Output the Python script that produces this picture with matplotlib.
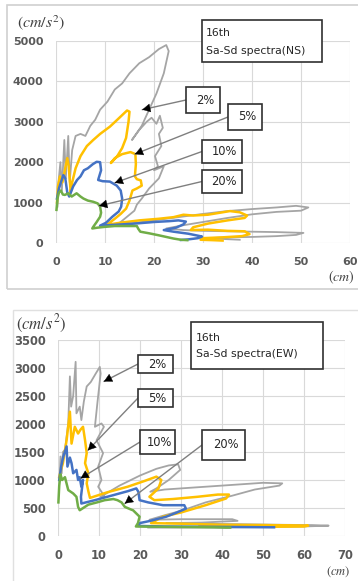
import matplotlib
matplotlib.use("Agg")
import matplotlib.pyplot as plt
from matplotlib.patches import Rectangle, FancyArrowPatch
import numpy as np

# ---------------- data: NS (top) ----------------
sd_ns_2 = [0.3, 0.5, 0.9, 1.2, 1.7, 2.0, 2.5, 2.8, 3.3, 4.0, 5.0, 6.0, 7.0, 8.0, 9.0, 10.5, 12.0, 13.5,
           15.0, 17.0, 19.0, 21.0, 22.5, 23.0, 22.0, 20.5, 19.0, 17.5, 15.5, 17.0, 18.5, 19.5, 20.5, 21.2,
           21.8, 21.0, 21.5, 20.2, 20.8, 20.0, 22.0, 21.0, 19.0, 17.5, 16.5, 16.0, 14.5, 13.0, 11.5, 15.0,
           20.0, 25.0, 30.0, 35.0, 40.0, 45.0, 49.0, 51.5, 50.0, 45.0, 40.0, 35.0, 30.0, 26.0, 22.5, 26.0,
           30.0, 35.0, 40.0, 45.0, 50.5, 49.0, 45.0, 40.0, 35.0, 31.0, 34.0, 37.5]
sa_ns_2 = [900, 1500, 2000, 1300, 2550, 1600, 2650, 1500, 2300, 2650, 2700, 2650, 2900, 3050, 3300, 3500,
           3800, 3950, 4200, 4450, 4600, 4800, 4900, 4750, 4200, 3700, 3300, 2900, 2550, 2800, 3000, 3100,
           2950, 3150, 2850, 2700, 2400, 2150, 1900, 1800, 1900, 1600, 1350, 1100, 950, 800, 650, 500, 420,
           480, 560, 640, 720, 790, 840, 880, 920, 880, 800, 770, 710, 620, 520, 440, 360, 320, 300, 290,
           280, 270, 250, 200, 170, 150, 140, 120, 100, 80]

sd_ns_5 = [0.2, 0.4, 0.8, 1.3, 1.8, 2.3, 2.6, 3.0, 3.3, 4.0, 5.0, 6.3, 7.6, 9.0, 11.0, 12.5, 13.8, 14.5,
           15.0, 14.8, 14.3, 13.5, 12.5, 11.2, 12.0, 13.5, 15.2, 16.2, 16.3, 16.1, 16.5, 17.3, 17.5, 16.5,
           15.6, 15.0, 14.3, 13.2, 12.0, 10.4, 13.0, 17.0, 21.0, 24.0, 26.0, 28.0, 31.0, 34.0, 35.5, 37.5,
           39.0, 38.5, 35.0, 31.0, 28.0, 27.5, 31.0, 35.0, 38.5, 39.5, 38.0, 34.0, 30.0, 29.5, 32.0, 34.0]
sa_ns_5 = [1000, 1400, 1650, 1500, 1800, 2100, 1900, 1250, 1500, 1850, 2150, 2400, 2550, 2700, 2880, 3050,
           3200, 3280, 3250, 3000, 2600, 2350, 2150, 1980, 2100, 2200, 2250, 2200, 1950, 1650, 1580, 1550,
           1420, 1350, 1300, 1050, 850, 720, 600, 450, 500, 560, 600, 640, 700, 680, 700, 760, 790, 760,
           680, 620, 560, 480, 390, 320, 330, 300, 290, 220, 170, 140, 120, 80, 70, 60]

sd_ns_10 = [0.2, 0.6, 1.0, 1.5, 1.9, 2.3, 2.7, 3.5, 4.3, 5.0, 5.7, 6.5, 7.5, 8.3, 9.0, 9.2, 8.6, 9.5,
            11.0, 12.4, 13.2, 13.5, 13.3, 12.8, 11.5, 10.2, 9.0, 12.0, 16.0, 20.0, 23.0, 25.0, 26.5, 26.0,
            24.5, 22.0, 24.0, 27.0, 29.8, 29.0, 27.0, 25.5]
sa_ns_10 = [1100, 1350, 1500, 1680, 1600, 1250, 1150, 1400, 1560, 1650, 1800, 1850, 1950, 2010, 2000, 1800,
            1560, 1530, 1520, 1420, 1300, 1100, 900, 780, 650, 500, 430, 450, 480, 520, 540, 560, 530, 460,
            380, 320, 280, 230, 160, 120, 90, 75]

sd_ns_20 = [0.1, 0.3, 0.6, 1.0, 1.4, 1.8, 2.5, 3.2, 4.2, 5.0, 5.6, 6.5, 7.6, 8.5, 9.0, 9.2, 9.0, 8.3, 7.6,
            7.4, 8.5, 10.0, 12.0, 14.0, 16.5, 16.8, 17.2, 19.0, 21.0, 22.5, 24.0, 25.5, 26.8]
sa_ns_20 = [820, 1100, 1250, 1300, 1200, 1190, 1230, 1150, 1230, 1150, 1100, 1050, 1020, 980, 900, 750, 650,
            520, 400, 360, 380, 400, 420, 420, 420, 350, 280, 240, 190, 150, 110, 80, 70]

# ---------------- data: EW (bottom) ----------------
sd_ew_2 = [0.4, 0.6, 0.9, 1.2, 1.7, 2.5, 2.9, 3.2, 3.7, 4.3, 4.5, 5.3, 5.7, 6.3, 7.0, 8.0, 9.2, 10.2, 10.4,
           9.6, 9.0, 10.6, 11.2, 9.4, 11.0, 9.8, 10.6, 9.8, 11.4, 10.4, 15.0, 20.0, 24.0, 27.0, 29.3, 29.8,
           27.0, 24.0, 22.5, 26.0, 32.0, 38.0, 44.0, 50.0, 54.7, 54.0, 48.0, 42.5, 36.0, 30.5, 26.0, 22.3,
           30.0, 37.0, 42.5, 43.8, 35.0, 26.4, 35.0, 45.0, 55.0, 62.0, 66.0, 60.0, 50.0, 40.0, 30.0, 22.0]
sa_ew_2 = [1000, 1420, 1120, 1500, 1540, 2010, 2850, 2310, 2500, 3110, 2190, 2310, 2070, 2400, 2670, 2750,
           2900, 3020, 2900, 2370, 1950, 2010, 1950, 1710, 1480, 1240, 1000, 880, 700, 700, 900, 1080, 1200,
           1260, 1280, 1180, 1000, 850, 790, 830, 860, 890, 920, 950, 940, 900, 830, 720, 600, 460, 370, 290,
           300, 300, 300, 270, 240, 230, 220, 210, 200, 195, 185, 170, 160, 155, 150, 150]

sd_ew_5 = [0.3, 0.6, 1.2, 2.1, 2.9, 3.3, 4.1, 4.9, 5.5, 6.1, 6.6, 7.0, 6.6, 7.4, 7.0, 7.4, 7.8, 12.0, 17.0,
           21.0, 24.0, 25.2, 24.5, 22.3, 23.5, 28.0, 34.0, 39.0, 41.7, 41.0, 36.0, 30.0, 25.6, 22.7, 30.0,
           40.0, 50.0, 57.0, 61.0, 60.0, 50.0, 40.0, 34.5]
sa_ew_5 = [1050, 1150, 1300, 1710, 2220, 1650, 1950, 1830, 1900, 1950, 1710, 1480, 1300, 1120, 940, 800, 680,
           780, 880, 980, 1060, 1000, 850, 700, 640, 660, 700, 740, 740, 670, 550, 420, 345, 230, 220, 200,
           195, 190, 185, 170, 165, 165, 165]

sd_ew_10 = [0.3, 0.8, 1.3, 2.1, 2.3, 2.9, 3.3, 3.7, 4.5, 4.9, 5.3, 5.7, 6.1, 5.6, 5.7, 9.0, 13.0, 17.0,
            19.1, 19.6, 19.9, 22.0, 25.6, 28.5, 30.8, 31.2, 29.0, 26.4, 22.5, 19.9, 19.5, 26.0, 35.0, 44.0, 52.7]
sa_ew_10 = [1000, 1250, 1420, 1600, 1240, 1400, 1300, 1120, 1180, 1000, 1050, 880, 1000, 700, 580, 640, 720,
            800, 850, 790, 640, 600, 550, 550, 550, 490, 420, 345, 270, 230, 180, 170, 165, 160, 155]

sd_ew_20 = [0.1, 0.3, 0.6, 1.0, 1.7, 2.5, 3.7, 4.5, 4.9, 5.3, 7.4, 9.5, 11.4, 13.5, 14.5, 15.5, 16.3, 17.9,
            18.3, 19.9, 19.5, 19.0, 25.0, 32.0, 38.0, 40.9, 42.0]
sa_ew_20 = [600, 900, 1100, 1000, 1050, 820, 760, 700, 520, 460, 560, 600, 640, 660, 640, 600, 520, 470, 460,
            345, 230, 170, 165, 160, 155, 150, 150]

damping_labels = ["2%", "5%", "10%", "20%"]
ns_arrow_heads = [(17.6, 3300), (16.1, 2200), (12.0, 1490), (8.8, 920)]
ew_arrow_heads = [(11.2, 2760), (7.3, 1530), (5.5, 1030), (16.3, 580)]

ns_xticks = [0, 10, 20, 30, 40, 50, 60]
ns_yticks = [0, 1000, 2000, 3000, 4000, 5000]
ew_xticks = [0, 10, 20, 30, 40, 50, 60, 70]
ew_yticks = [0, 500, 1000, 1500, 2000, 2500, 3000, 3500]

# ---------------- figure ----------------
W, H = 358, 581
fig = plt.figure(figsize=(W / 100, H / 100), dpi=100)
fig.patch.set_facecolor("white")
plt.rcParams["mathtext.fontset"] = "stix"

colors = ["#a5a5a5", "#ffc000", "#4472c4", "#70ad47"]
widths = [1.3, 1.8, 1.8, 1.8]


def fx(x):
    return x / W


def fy(y):
    return 1 - y / H


# panel frames
fig.patches.append(Rectangle((fx(7), fy(289)), fx(360) - fx(7), fy(5) - fy(289),
                             transform=fig.transFigure, fill=False, ec="#d0d0d0", lw=1.2))
fig.patches.append(Rectangle((fx(13), fy(590)), fx(360) - fx(13), fy(310) - fy(590),
                             transform=fig.transFigure, fill=False, ec="#e0e0e0", lw=1.0))

ax1 = fig.add_axes([fx(56), fy(243), (350 - 56) / W, (243 - 41) / H])
ax2 = fig.add_axes([fx(58), fy(536), (345 - 58) / W, (536 - 340) / H])


def style(ax, xt, yt, fs, padx, pady):
    ax.set_xlim(xt[0], xt[-1])
    ax.set_ylim(yt[0], yt[-1])
    ax.set_xticks(xt)
    ax.set_yticks(yt)
    ax.grid(True, color="#d9d9d9", lw=0.8, zorder=0)
    ax.set_axisbelow(True)
    for s in ax.spines.values():
        s.set_visible(False)
    ax.tick_params(length=0, labelsize=fs)
    ax.tick_params(axis="x", pad=padx)
    ax.tick_params(axis="y", pad=pady)
    for lab in ax.get_xticklabels() + ax.get_yticklabels():
        lab.set_fontweight("bold")
        lab.set_color("#595959")


style(ax1, ns_xticks, ns_yticks, 8, 10, 9)
style(ax2, ew_xticks, ew_yticks, 8.3, 9.5, 9)

ns_series = [(sd_ns_2, sa_ns_2), (sd_ns_5, sa_ns_5), (sd_ns_10, sa_ns_10), (sd_ns_20, sa_ns_20)]
ew_series = [(sd_ew_2, sa_ew_2), (sd_ew_5, sa_ew_5), (sd_ew_10, sa_ew_10), (sd_ew_20, sa_ew_20)]

for (x, y), c, w in zip(ns_series, colors, widths):
    ax1.plot(x, y, color=c, lw=w, zorder=3, solid_joinstyle="round", clip_on=False)
for (x, y), c, w in zip(ew_series, colors, widths):
    ax2.plot(x, y, color=c, lw=w, zorder=3, solid_joinstyle="round", clip_on=False)

# unit labels
fig.text(fx(17), fy(23), r"$(cm/s^2)$", fontsize=11.5, va="center", ha="left", color="#404040")
fig.text(fx(328), fy(277), r"$(cm)$", fontsize=10, va="center", ha="left", color="#404040")
fig.text(fx(16), fy(324), r"$(cm/s^2)$", fontsize=12, va="center", ha="left", color="#404040")
fig.text(fx(326), fy(572), r"$(cm)$", fontsize=9, va="center", ha="left", color="#404040")


def box(x0, y0, x1, y1):
    fig.patches.append(Rectangle((fx(x0), fy(y1)), fx(x1) - fx(x0), fy(y0) - fy(y1),
                                 transform=fig.transFigure, fc="white", ec="#303030", lw=1.2, zorder=5))


# title boxes
box(202, 20, 322, 62)
fig.text(fx(206), fy(33), "16th", fontsize=7.8, va="center", ha="left", color="#262626", zorder=6)
fig.text(fx(206), fy(51), "Sa-Sd spectra(NS)", fontsize=7.8, va="center", ha="left", color="#262626", zorder=6)
box(191, 322, 323, 369)
fig.text(fx(196), fy(338), "16th", fontsize=7.8, va="center", ha="left", color="#262626", zorder=6)
fig.text(fx(196), fy(354), "Sa-Sd spectra(EW)", fontsize=7.8, va="center", ha="left", color="#262626", zorder=6)

ns_boxes = [(186, 87, 220, 113), (228, 104, 262, 130), (202, 140, 242, 163), (202, 170, 242, 193)]
ew_boxes = [(138, 355, 173, 373), (138, 389, 173, 407), (140, 430, 175, 454), (202, 430, 245, 460)]


def arrow(ax, head, start):
    hx, hy = ax.transData.transform(head)
    sx, sy = start[0], H - start[1]
    d = np.array([hx - sx, hy - sy])
    d = d / np.hypot(*d)
    fig.add_artist(FancyArrowPatch((sx, sy), (hx, hy), transform=None,
                                   arrowstyle="-", color="#7f7f7f", lw=1.0, zorder=4,
                                   shrinkA=0, shrinkB=0))
    bx, by = hx - d[0] * 8, hy - d[1] * 8
    fig.add_artist(FancyArrowPatch((bx, by), (hx, hy), transform=None,
                                   arrowstyle="-|>,head_length=0.6,head_width=0.32",
                                   mutation_scale=9, color="black", lw=0.3, zorder=4,
                                   shrinkA=0, shrinkB=0))


for ax, heads, boxes in [(ax1, ns_arrow_heads, ns_boxes), (ax2, ew_arrow_heads, ew_boxes)]:
    for lab, head, (x0, y0, x1, y1) in zip(damping_labels, heads, boxes):
        arrow(ax, head, (x0, (y0 + y1) / 2))
        box(x0, y0, x1, y1)
        fig.text(fx((x0 + x1) / 2 + 2), fy((y0 + y1) / 2), lab, fontsize=8.3, va="center", ha="center",
                 color="#262626", zorder=6)

fig.savefig("out.png", dpi=100)
